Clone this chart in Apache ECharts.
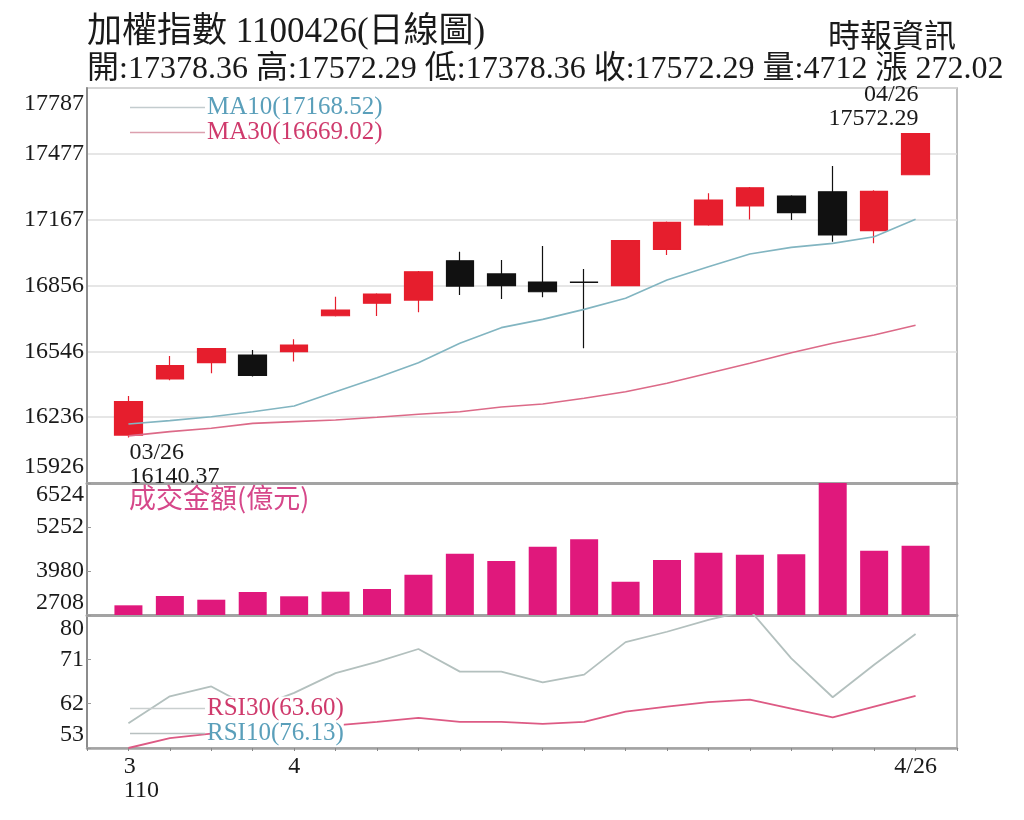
<!DOCTYPE html>
<html>
<head>
<meta charset="utf-8">
<title>加權指數 日線圖</title>
<script src="https://cdn.jsdelivr.net/npm/echarts@6/dist/echarts.min.js"></script>
<style>
  html, body { margin: 0; padding: 0; background: #fff; }
  #chart { width: 1024px; height: 820px; }
</style>
</head>
<body>
<div id="chart"></div>
<script>
// 日期 (110/03/26 ~ 110/04/26)
const dates = ['03/26', '03/29', '03/30', '03/31', '04/01', '04/06', '04/07', '04/08', '04/09', '04/12',
  '04/13', '04/14', '04/15', '04/16', '04/19', '04/20', '04/21', '04/22', '04/23', '04/26'];

// K線 開/收/低/高
const opens = [16152, 16416, 16493, 16529, 16545, 16714, 16773, 16788, 16973, 16911,
  16873, 16872, 16856, 17027, 17142, 17231, 17278, 17298, 17115, 17378.36];
const closes = [16310, 16479, 16559, 16433, 16576, 16741, 16816, 16921, 16854, 16856,
  16827, 16871, 17068, 17154, 17259, 17317, 17200, 17095, 17300.27, 17572.29];
const lows = [16140.37, 16410, 16443, 16428, 16498, 16710, 16713, 16730, 16812, 16793,
  16801, 16561, 16853, 17000, 17138, 17168, 17165, 17063, 17055, 17378.36];
const highs = [16336, 16524, 16562, 16553, 16603, 16804, 16820, 16925, 17016, 16977,
  17043, 16934, 17070, 17158, 17291, 17320, 17282, 17420, 17305, 17572.29];

// 均線
const ma10 = [16204, 16220, 16238, 16262, 16289, 16356, 16422, 16493, 16584, 16658,
  16697, 16744, 16796, 16882, 16945, 17005, 17036, 17055, 17086, 17168.52];
const ma30 = [16148, 16168, 16184, 16207, 16215, 16223, 16236, 16250, 16262, 16284,
  16298, 16325, 16356, 16396, 16443, 16490, 16540, 16584, 16623, 16669.02];

// 成交金額(億元)
const volumes = [2988, 3257, 3150, 3373, 3249, 3382, 3460, 3873, 4480, 4269,
  4683, 4896, 3671, 4298, 4509, 4451, 4463, 6524, 4567, 4712];

// RSI
const rsi10 = [58.0, 63.5, 65.5, 61.0, 64.2, 68.2, 70.5, 73.1, 68.5, 68.5,
  66.3, 67.9, 74.5, 76.6, 79.0, 81.0, 71.2, 63.3, 69.9, 76.13];
const rsi30 = [53.0, 55.0, 55.9, 55.6, 56.5, 57.6, 58.3, 59.1, 58.3, 58.3,
  57.9, 58.3, 60.4, 61.4, 62.3, 62.8, 61.0, 59.2, 61.4, 63.60];

// 刻度
const priceTicks = [15926, 16236, 16546, 16856, 17167, 17477, 17787];
const volumeTicks = [2708, 3980, 5252, 6524];
const rsiTicks = [53, 62, 71, 80];
const xLabelIndex = [0, 4, 19];
const xLabelText = ['3', '4', '4/26'];
const yearLabel = '110';

const SERIF = '"Liberation Serif", "Times New Roman", serif';
const MIXED = '"Liberation Serif", "Noto Sans CJK TC", serif';
const CJK = '"Noto Sans CJK TC", sans-serif';

const last = dates.length - 1;
const change = closes[last] - closes[last - 1];
const infoLine = `開:${opens[last].toFixed(2)} 高:${highs[last].toFixed(2)} 低:${lows[last].toFixed(2)} ` +
  `收:${closes[last].toFixed(2)} 量:${volumes[last]} 漲 ${change.toFixed(2)}`;

const lastVal = {
  MA10: ma10[last].toFixed(2),
  MA30: ma30[last].toFixed(2),
  RSI10: rsi10[last].toFixed(2),
  RSI30: rsi30[last].toFixed(2),
};

const hiIdx = highs.indexOf(Math.max(...highs));
const loIdx = lows.indexOf(Math.min(...lows));

const pairs = (arr) => arr.map((v, i) => [i, v]);

const xAxisFor = (gridIndex, withLabels) => ({
  type: 'value',
  gridIndex: gridIndex,
  min: -1,
  max: dates.length,
  interval: 1,
  splitLine: { show: false },
  axisLine: { onZero: false, lineStyle: { color: '#a3a3a3', width: withLabels ? 2.5 : 3 } },
  axisTick: { show: withLabels, length: 3, lineStyle: { color: '#888' } },
  axisLabel: {
    show: withLabels,
    margin: 7,
    color: '#1a1a1a',
    fontFamily: SERIF,
    fontSize: 24,
    lineHeight: 24,
    formatter: (v) => {
      const k = xLabelIndex.indexOf(v);
      if (k < 0) return '';
      if (v === 0) return `{y|${xLabelText[k]}}\n{y|${yearLabel}}`;
      return xLabelText[k];
    },
    rich: {
      y: { fontFamily: SERIF, fontSize: 24, lineHeight: 24, color: '#1a1a1a', align: 'left', padding: [0, 0, 0, 26] }
    }
  }
});

const yAxisFor = (gridIndex, ticks, lineHeight, withSplit) => ({
  type: 'value',
  gridIndex: gridIndex,
  min: ticks[0],
  max: ticks[ticks.length - 1],
  axisLine: { show: true, onZero: false, lineStyle: { color: '#8c8c8c', width: 2 } },
  axisTick: { show: !withSplit, inside: true, length: 4, lineStyle: { color: '#999' }, customValues: ticks },
  splitLine: { show: withSplit, lineStyle: { color: '#dedede', width: 1.5 } },
  axisLabel: {
    customValues: ticks,
    margin: 3,
    color: '#1a1a1a',
    fontFamily: SERIF,
    fontSize: 24,
    lineHeight: lineHeight,
    verticalAlignMinLabel: 'bottom',
    verticalAlignMaxLabel: 'top',
    formatter: (v) => String(Math.round(v))
  }
});

const legendFor = (names, textColors, iconColors, top) => ({
  data: names.map((n, i) => ({ name: n, textStyle: { color: textColors[i] }, itemStyle: { color: iconColors[i] } })),
  left: 130,
  top: top,
  orient: 'vertical',
  icon: 'rect',
  itemWidth: 75,
  itemHeight: 1.5,
  itemGap: 0,
  padding: 0,
  selectedMode: false,
  textStyle: { fontFamily: SERIF, fontSize: 25, lineHeight: 24, padding: [0, 0, 0, -3], backgroundColor: '#fff' },
  formatter: (name) => `${name}(${lastVal[name]})`
});

const chart = echarts.init(document.getElementById('chart'));
chart.setOption({
  animation: false,
  backgroundColor: '#fff',
  title: [
    { text: '加權指數 1100426(日線圖)', left: 87, top: 14, padding: 0,
      textStyle: { fontFamily: MIXED, fontSize: 35, lineHeight: 38, fontWeight: 'normal', color: '#1a1a1a' } },
    { text: infoLine, left: 87, top: 53, padding: 0,
      textStyle: { fontFamily: MIXED, fontSize: 32, lineHeight: 34, fontWeight: 'normal', color: '#1a1a1a' } },
    { text: '時報資訊', right: 68, top: 18, padding: 0,
      textStyle: { fontFamily: CJK, fontSize: 32, lineHeight: 34, fontWeight: 'normal', color: '#1a1a1a' } },
    { text: '成交金額(億元)', left: 129, top: 484, padding: 0,
      textStyle: { fontFamily: CJK, fontSize: 27, lineHeight: 28, fontWeight: 'normal', color: '#d6488a' } }
  ],
  legend: [
    legendFor(['MA10', 'MA30'], ['#5a9fba', '#cf3a6c'], ['#c3ccce', '#dca0ae'], 95),
    legendFor(['RSI30', 'RSI10'], ['#cf3a6c', '#5a9fba'], ['#c9cfcf', '#b8c0c0'], 696)
  ],
  grid: [
    { left: 87, right: 67, top: 88, height: 395, show: true, borderColor: '#a8a8a8', borderWidth: 1.5 },
    { left: 87, right: 67, top: 483, height: 132, show: true, borderColor: '#a8a8a8', borderWidth: 1.5 },
    { left: 87, right: 67, top: 615, height: 133, show: true, borderColor: '#a8a8a8', borderWidth: 1.5 }
  ],
  xAxis: [xAxisFor(0, false), xAxisFor(1, false), xAxisFor(2, true)],
  yAxis: [
    yAxisFor(0, priceTicks, 32, true),
    yAxisFor(1, volumeTicks, 24, false),
    yAxisFor(2, rsiTicks, 27, false)
  ],
  series: [
    {
      name: '加權指數',
      type: 'candlestick',
      xAxisIndex: 0,
      yAxisIndex: 0,
      barWidth: 28,
      data: dates.map((d, i) => [i, opens[i], closes[i], lows[i], highs[i]]),
      encode: { x: 0, y: [1, 2, 3, 4] },
      itemStyle: {
        color: '#e61e2d', color0: '#111111',
        borderColor: '#e61e2d', borderColor0: '#111111',
        borderColorDoji: '#333333', borderWidth: 1.2
      },
      markPoint: {
        symbol: 'circle',
        symbolSize: 1,
        itemStyle: { color: 'rgba(0,0,0,0)' },
        label: { color: '#1a1a1a', fontFamily: SERIF, fontSize: 24, lineHeight: 24 },
        data: [
          {
            coord: [hiIdx, highs[hiIdx]],
            label: { position: 'inside', align: 'right', verticalAlign: 'bottom', offset: [3, -3],
              formatter: dates[hiIdx] + '\n' + highs[hiIdx].toFixed(2) }
          },
          {
            coord: [loIdx, lows[loIdx]],
            label: { position: 'inside', align: 'left', verticalAlign: 'top', offset: [1, 3],
              formatter: dates[loIdx] + '\n' + lows[loIdx].toFixed(2) }
          }
        ]
      }
    },
    { name: 'MA10', type: 'line', xAxisIndex: 0, yAxisIndex: 0, data: pairs(ma10), symbol: 'none',
      lineStyle: { color: '#82b5c1', width: 1.6 }, itemStyle: { color: '#82b5c1' } },
    { name: 'MA30', type: 'line', xAxisIndex: 0, yAxisIndex: 0, data: pairs(ma30), symbol: 'none',
      lineStyle: { color: '#dc6a88', width: 1.6 }, itemStyle: { color: '#dc6a88' } },
    { name: '成交金額', type: 'bar', xAxisIndex: 1, yAxisIndex: 1, data: pairs(volumes), barWidth: 28,
      itemStyle: { color: '#e0187c' } },
    { name: 'RSI10', type: 'line', xAxisIndex: 2, yAxisIndex: 2, data: pairs(rsi10), symbol: 'none',
      lineStyle: { color: '#b3c0be', width: 1.8 }, itemStyle: { color: '#b3c0be' } },
    { name: 'RSI30', type: 'line', xAxisIndex: 2, yAxisIndex: 2, data: pairs(rsi30), symbol: 'none',
      lineStyle: { color: '#dd5a84', width: 1.8 }, itemStyle: { color: '#dd5a84' } }
  ]
});
</script>
</body>
</html>
